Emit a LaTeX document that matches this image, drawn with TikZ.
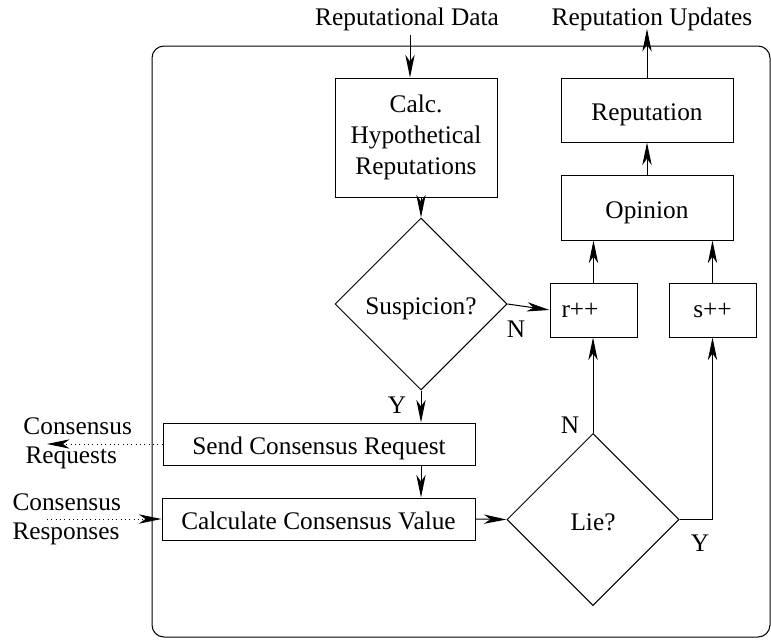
\documentclass[tikz,border=0pt]{standalone}
\usepackage{fontspec}
\setmainfont{Liberation Serif}
\usetikzlibrary{shapes.geometric,arrows.meta}
\begin{document}
\begin{tikzpicture}[x=0.75pt,y=-0.75pt,
  font=\fontsize{19}{23}\selectfont,
  line width=0.75pt,
  arr/.style={-{Stealth[length=17pt,width=7pt,inset=5pt]}},
  dots/.style={dash pattern=on 0.75pt off 2.5pt},
  box/.style={draw,rectangle,inner sep=0pt},
  txt/.style={text height=16pt,text depth=0pt},
  dia/.style={draw,diamond,aspect=1,minimum size=129pt,inner sep=0pt,txt},
  lbl/.style={inner sep=0pt}]
\useasboundingbox (0,0) rectangle (771,639);
\draw[rounded corners=9pt] (152,46) rectangle (770,637);

% boxes
\node[box,minimum width=121.5pt,minimum height=89.25pt,align=center,
      execute at begin node={\setlength{\baselineskip}{23.25pt}}]
      (calc) at (416,137.5) {Calc.\\Hypothetical\\Reputations};
\node[box,txt,minimum width=129pt,minimum height=48pt] (rep) at (647,110) {Reputation};
\node[box,txt,minimum width=129pt,minimum height=48.75pt] (op) at (647,207.5) {Opinion};
\node[box,minimum width=65.25pt,minimum height=40.5pt,text width=48pt,align=left,inner xsep=8.6pt] (rpp) at (593.5,310) {r++};
\node[box,minimum width=65.25pt,minimum height=40.5pt] (spp) at (712.5,310) {s++};
\node[box,txt,minimum width=234pt,minimum height=31.5pt] (send) at (319,444) {Send Consensus Request};
\node[box,txt,minimum width=234.75pt,minimum height=31.5pt] (calcv) at (318.5,519) {Calculate Consensus Value};
\node[dia] (susp) at (421,304) {Suspicion?};
\node[dia] (lie) at (593,519.5) {Lie?};

% outside texts
\node[lbl,anchor=base] (repdata) at (407,25) {Reputational Data};
\node[lbl,anchor=base] (repupd) at (652,25) {Reputation Updates};
\node[lbl,anchor=base west] (creq1) at (23,434) {Consensus};
\node[lbl,anchor=base west] (creq2) at (25,463) {Requests};
\node[lbl,anchor=base west] (cres1) at (12,510) {Consensus};
\node[lbl,anchor=base west] (cres2) at (12,539) {Responses};
\coordinate (creq) at (47,444);
\coordinate (cres) at (47,519);

% branch labels
\node[lbl] (n1) at (516,329) {N};
\node[lbl] (y1) at (397,405) {Y};
\node[lbl] (n2) at (570,425) {N};
\node[lbl] (y2) at (700,543) {Y};

% connectors
\draw[arr] ([xshift=2.25pt,yshift=-3pt]repdata.south) -- ([xshift=-4.5pt]calc.north);
\draw[arr] (rep.north) -- ([yshift=1.5pt]repupd.south -| rep.north);
\draw[arr] ([xshift=3.75pt]calc.south) -- (susp.north);
\draw[arr] (susp.east) -- (rpp.west);
\draw[arr] (susp.south) -- (susp.south |- send.north);
\draw[arr] (send.south -| susp.south) -- (calcv.north -| susp.south);
\draw[arr] (calcv.east) -- (lie.west);
\draw[arr] (lie.north) -- (lie.north |- rpp.south);
\draw[arr] (lie.east) -- (lie.east -| spp.south) -- (spp.south);
\draw[arr] (rpp.north) -- (rpp.north |- op.south);
\draw[arr] (spp.north) -- (spp.north |- op.south);
\draw[arr] (op.north) -- (rep.south);
\draw[arr,dots] (send.west) -- (creq);
\draw[arr,dots] (cres) -- (calcv.west);
\end{tikzpicture}
\end{document}
